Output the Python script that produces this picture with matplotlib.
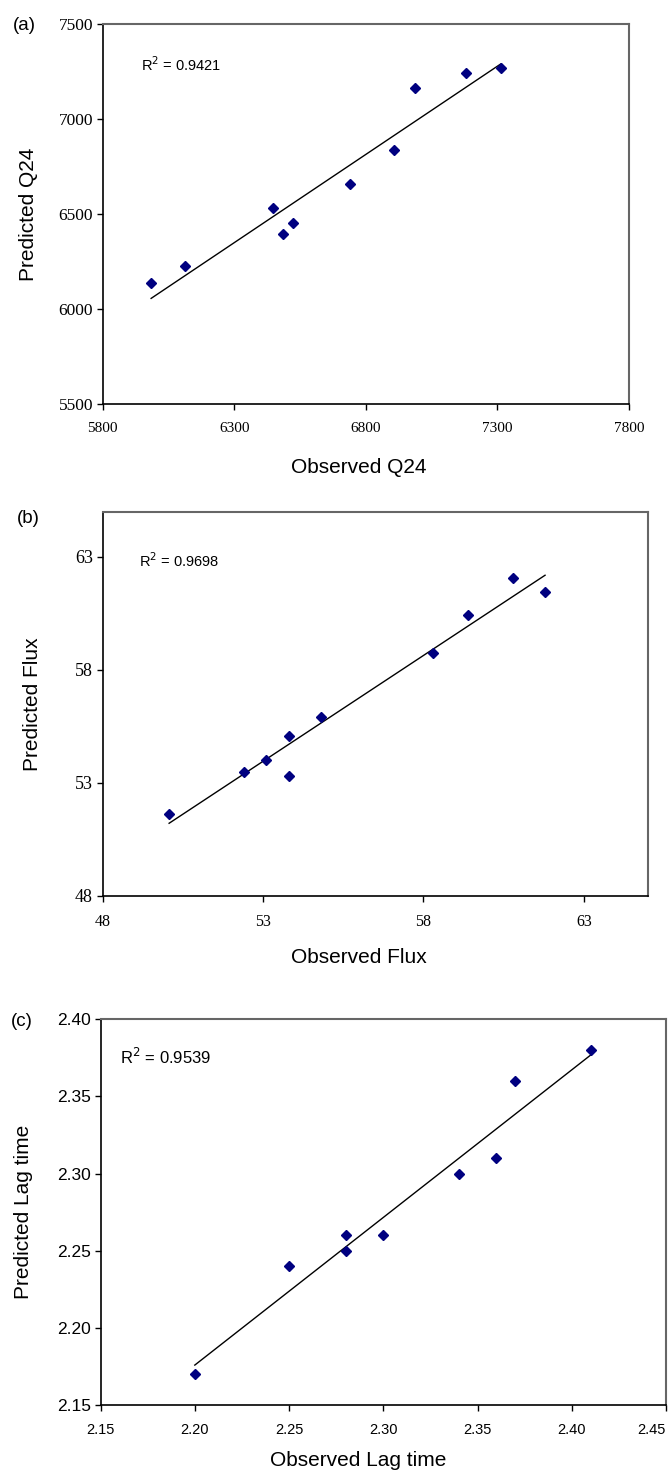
import numpy as np
import matplotlib
matplotlib.use('Agg')
import matplotlib.pyplot as plt

#data
obs_q24 = [5984, 6114, 6449, 6486, 6522, 6741, 6907, 6985, 7180, 7312]
pred_q24 = [6139, 6226, 6532, 6396, 6451, 6658, 6837, 7163, 7242, 7268]
r2_q24 = '0.9421'

obs_flux = [50.07, 52.4, 53.08, 53.81, 53.81, 54.8, 58.29, 59.4, 60.8, 61.79]
pred_flux = [51.6, 53.49, 53.99, 55.08, 53.31, 55.9, 58.74, 60.41, 62.06, 61.43]
r2_flux = '0.9698'

obs_lag = [2.20, 2.25, 2.28, 2.28, 2.30, 2.34, 2.36, 2.37, 2.41]
pred_lag = [2.17, 2.24, 2.25, 2.26, 2.26, 2.30, 2.31, 2.36, 2.38]
r2_lag = '0.9539'

q24_ticks_x = [5800, 6300, 6800, 7300, 7800]
q24_ticks_y = [5500, 6000, 6500, 7000, 7500]
flux_ticks = [48, 53, 58, 63]
lag_ticks_x = [2.15, 2.20, 2.25, 2.30, 2.35, 2.40, 2.45]
lag_ticks_y = [2.15, 2.20, 2.25, 2.30, 2.35, 2.40]

sans = 'Liberation Sans'
serif = 'Liberation Serif'

fig = plt.figure(figsize=(6.7, 14.74), dpi=100)


def panel(rect, x, y, r2, xlab, ylab, letter, letter_pos, r2_pos, r2_size,
          xlim, ylim, xt, yt, tickfont, xfs, yfs, fmt, label_pos):
    ax = fig.add_axes(rect)
    ax.plot(x, y, linestyle='none', marker='D', markersize=4.6,
            color='#000080', zorder=3)
    #linear trend line
    m, b = np.polyfit(x, y, 1)
    xs = np.array([min(x), max(x)])
    ax.plot(xs, m*xs+b, color='black', lw=1.0)
    ax.set_xlim(xlim)
    ax.set_ylim(ylim)
    ax.set_xticks(xt)
    ax.set_yticks(yt)
    ax.set_xticklabels([fmt % v for v in xt], fontfamily=tickfont, fontsize=xfs)
    ax.set_yticklabels([fmt % v for v in yt], fontfamily=tickfont, fontsize=yfs)
    ax.tick_params(direction='out', length=4, width=1, color='black')
    ax.tick_params(axis='x', pad=9)
    ax.tick_params(axis='y', pad=3)
    for s in ['top', 'right']:
        ax.spines[s].set_color('#666666')
        ax.spines[s].set_linewidth(1.5)
    for s in ['left', 'bottom']:
        ax.spines[s].set_color('black')
        ax.spines[s].set_linewidth(1.2)
    ax.set_xlabel(xlab, fontfamily=sans, fontsize=15)
    ax.set_ylabel(ylab, fontfamily=sans, fontsize=15)
    ax.xaxis.set_label_coords(label_pos[0], label_pos[1])
    ax.yaxis.set_label_coords(label_pos[2], 0.5)
    ax.text(r2_pos[0], r2_pos[1], 'R$^2$ = ' + r2, transform=ax.transAxes,
            fontfamily=sans, fontsize=r2_size, va='center', ha='left')
    fig.text(letter_pos[0], letter_pos[1], letter, fontfamily=sans,
             fontsize=13.5, va='center', ha='left')
    return ax


panel([0.1533, 0.7259, 0.7855, 0.2578], obs_q24, pred_q24, r2_q24,
      'Observed Q24', 'Predicted Q24', '(a)', (0.019, 0.9824), (0.073, 0.892), 10.5,
      (5800, 7800), (5500, 7500), q24_ticks_x, q24_ticks_y, serif, 11, 12.5,
      '%d', (0.487, -0.142, -0.123))

panel([0.1533, 0.3923, 0.8139, 0.2605], obs_flux, pred_flux, r2_flux,
      'Observed Flux', 'Predicted Flux', '(b)', (0.025, 0.6479), (0.067, 0.874), 10.5,
      (48, 65), (48, 65), flux_ticks, flux_ticks, serif, 11.5, 13,
      '%d', (0.47, -0.136, -0.111))

axc = panel([0.1501, 0.0468, 0.8439, 0.2617], obs_lag, pred_lag, r2_lag,
            'Observed Lag time', 'Predicted Lag time', '(c)', (0.016, 0.3069), (0.034, 0.903), 12,
            (2.15, 2.45), (2.15, 2.40), lag_ticks_x, lag_ticks_y, sans, 10.5, 12.5,
            '%.2f', (0.456, -0.12, -0.119))
#last x label sits inside the figure edge
axc.get_xticklabels()[-1].set_horizontalalignment('right')

plt.savefig('out.png', dpi=100)
